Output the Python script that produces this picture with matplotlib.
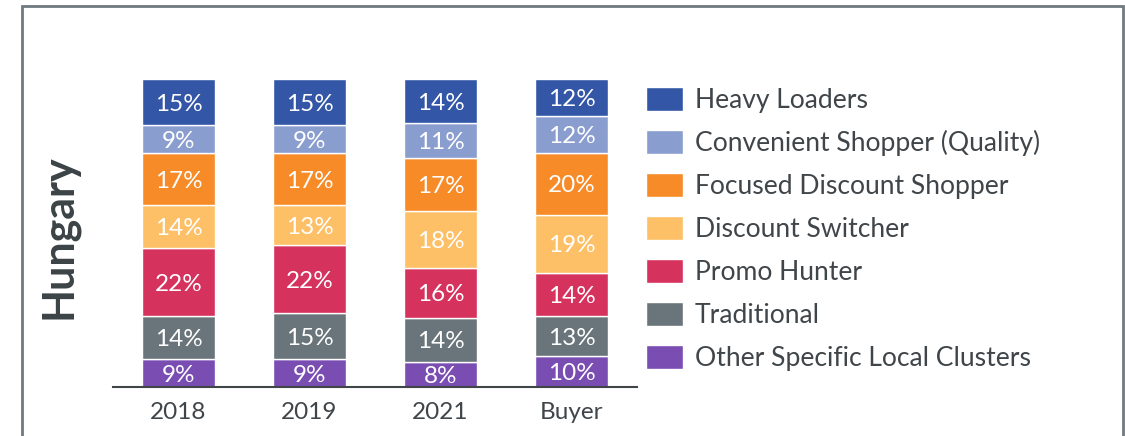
import matplotlib

matplotlib.use("Agg")
import matplotlib.pyplot as plt
import numpy as np
from matplotlib.patches import Rectangle

plt.rcParams["font.family"] = ["Lato", "DejaVu Sans"]

categories = ["2018", "2019", "2021", "Buyer"]
segments = [
    "Heavy Loaders",
    "Convenient Shopper (Quality)",
    "Focused Discount Shopper",
    "Discount Switcher",
    "Promo Hunter",
    "Traditional",
    "Other Specific Local Clusters",
]
# shares (%) per segment, one value per category
heavy_loaders = [15, 15, 14, 12]
convenient = [9, 9, 11, 12]
focused_discount = [17, 17, 17, 20]
discount_switcher = [14, 13, 18, 19]
promo_hunter = [22, 22, 16, 14]
traditional = [14, 15, 14, 13]
other_local = [9, 9, 8, 10]

colors = ["#3356A6", "#8A9DCF", "#F68B28", "#FDC066", "#D5325E", "#6A757B", "#7A4DB2"]
text_dark = "#3F4549"

# stack from the bottom up, legend order is top down
series = [heavy_loaders, convenient, focused_discount, discount_switcher,
          promo_hunter, traditional, other_local]
vals = np.array(series, dtype=float)
shares = vals / vals.sum(axis=0) * 100  # bars are drawn as full 100% stacks

fig = plt.figure(figsize=(11.25, 4.36), dpi=100)
ax = fig.add_axes([113 / 1125, 1 - 387 / 436, (637 - 113) / 1125, (387 - 79) / 436])

x = np.arange(len(categories))
bottom = np.zeros(len(categories))
handles = [None] * len(segments)
for i in range(len(segments) - 1, -1, -1):
    bars = ax.bar(x, shares[i], 0.55, bottom=bottom, color=colors[i],
                  edgecolor="white", linewidth=1.0, label=segments[i])
    handles[i] = bars
    for xi, b, h, v in zip(x, bottom, shares[i], vals[i]):
        ax.text(xi, b + h / 2, f"{int(v)}%", ha="center", va="center_baseline",
                color="white", fontsize=17.5)
    bottom += shares[i]

ax.set_xlim(-0.5, 3.5)
ax.set_ylim(0, 100)
ax.set_xticks(x)
ax.set_xticklabels(categories, fontsize=17.5, color=text_dark)
ax.tick_params(axis="x", length=0, pad=11)
ax.set_yticks([])
for side in ["top", "left", "right"]:
    ax.spines[side].set_visible(False)
ax.spines["bottom"].set_color("#404548")
ax.spines["bottom"].set_linewidth(1.5)

leg = fig.legend(handles, segments, loc="upper left",
                 bbox_to_anchor=(646 / 1125, 1 - 87 / 436), frameon=False,
                 fontsize=19.1, handlelength=1.4, handleheight=1.0,
                 handletextpad=0.45, labelspacing=0.64, borderpad=0,
                 borderaxespad=0)
for t in leg.get_texts():
    t.set_color(text_dark)

fig.text(58 / 1125, 1 - 237 / 436, "Hungary", rotation=90, ha="center",
         va="center", fontsize=31, fontweight="bold", color="#3C4346")

# panel frame (bottom edge runs off the image)
fig.add_artist(Rectangle((22 / 1125, -0.2), (1123 - 22) / 1125, 1.2 - 6 / 436,
                         transform=fig.transFigure, fill=False,
                         edgecolor="#6F7A80", linewidth=2.0, clip_on=False))

fig.savefig("out.png", dpi=100)
